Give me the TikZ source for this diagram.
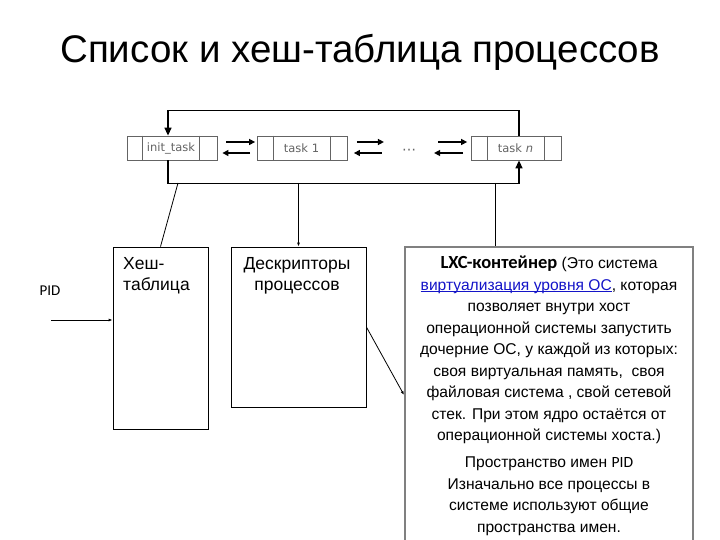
\documentclass[tikz,border=0pt]{standalone}
\usepackage{fontspec}
\setmainfont{Liberation Sans}
\newfontfamily\carlito{Carlito}
\newfontfamily\dejavu{DejaVu Sans}
\usetikzlibrary{arrows.meta,calc}
\definecolor{linkblue}{RGB}{20,20,200}
\definecolor{chaingray}{RGB}{100,100,100}
\definecolor{lxcgray}{RGB}{128,128,128}
\newcommand\linkul[1]{\setbox0\hbox{#1}\rlap{\rule[-1.8pt]{\wd0}{0.9pt}}\box0}
\tikzset{
  taskbox/.style={draw=chaingray, line width=0.8pt, minimum width=90pt, minimum height=24pt, inner sep=0pt},
  tasktext/.style={text=chaingray, font=\dejavu\fontsize{11.5}{13}\selectfont},
  chainarrow/.style={line width=1.4pt, -{Triangle[length=6pt,width=6pt]}},
  loopline/.style={line width=1.4pt, -{Triangle[length=8pt,width=7pt]}},
  thinline/.style={line width=0.8pt},
  thinarrow/.style={line width=0.8pt, -{Latex[length=4pt,width=3pt]}},
  plainbox/.style={draw, line width=0.8pt, inner sep=0pt},
  boxtext/.style={font=\fontsize{17.5}{21}\selectfont, align=left, inner sep=0pt},
}
\begin{document}
\begin{tikzpicture}[x=1pt,y=-1pt]
\useasboundingbox (0,0) rectangle (720,540);
\clip (0,0) rectangle (720,540);
\fill[white] (0,0) rectangle (720,540);

% title
\node[font=\fontsize{38.5}{42}\selectfont, inner sep=0pt] (title) at (360,52) {Список и хеш-таблица процессов};

% task chain
\node[taskbox] (t0) at (172,148) {};
\node[taskbox] (t1) at (302.5,148) {};
\node[taskbox] (tn) at (516.5,148) {};
\foreach \t in {t0,t1,tn}{
  \draw[draw=chaingray, line width=0.8pt] ([xshift=16pt]\t.north west) -- ([xshift=16pt]\t.south west);
  \draw[draw=chaingray, line width=0.8pt] ([xshift=-18pt]\t.north east) -- ([xshift=-18pt]\t.south east);
}
\node[tasktext] (l0) at ([xshift=-1pt]t0.center) {init\_task};
\node[tasktext] (l1) at ([xshift=-1pt]t1.center) {task 1};
\node[tasktext] (ln) at ([xshift=-1pt]tn.center) {task \textit{n}};
\node[text=chaingray, font=\dejavu\fontsize{14}{15}\selectfont, inner sep=0pt] (dots) at (409,152) {⋯};

% arrows between tasks
\draw[chainarrow] ([xshift=9pt,yshift=6pt]t0.east) -- ([xshift=-2pt,yshift=6pt]t1.west);
\draw[chainarrow] ([xshift=-7pt,yshift=-5pt]t1.west) -- ([xshift=5pt,yshift=-5pt]t0.east);
\draw[chainarrow] ([xshift=9pt,yshift=6pt]t1.east) -- ([xshift=36pt,yshift=6pt]t1.east);
\draw[chainarrow] ([xshift=34pt,yshift=-5pt]t1.east) -- ([xshift=6pt,yshift=-5pt]t1.east);
\draw[chainarrow] ([xshift=-33pt,yshift=6pt]tn.west) -- ([xshift=-4pt,yshift=6pt]tn.west);
\draw[chainarrow] ([xshift=-8pt,yshift=-5pt]tn.west) -- ([xshift=-37pt,yshift=-5pt]tn.west);

% loops
\draw[loopline] ([xshift=2.5pt]tn.north) -- ++(0,-25) -| ([xshift=-4pt]t0.north);
\draw[loopline] ([xshift=-4pt]t0.south) -- ++(0,23) -| ([xshift=2.5pt]tn.south);

% lower boxes
\node[plainbox, minimum width=95pt, minimum height=182pt] (hb) at (160.5,338) {};
\node[boxtext, anchor=north west] (hbt) at (123,257) {Хеш-\\таблица};
\node[plainbox, minimum width=135pt, minimum height=160pt] (db) at (298.5,327) {};
\node[boxtext, align=center, anchor=north] (dbt) at (297,257) {Дескрипторы\\процессов};
\node[draw=lxcgray, line width=2pt, minimum width=288pt, minimum height=300pt, inner sep=0pt] (lb) at (549,397) {};

\node[font=\fontsize{15.6}{21.5}\selectfont, align=center, inner sep=0pt, anchor=north] (lbt) at (549,256) {%
{\carlito\bfseries\fontsize{18.5}{21.5}\selectfont LXC-контейнер} (Это система\\
\textcolor{linkblue}{\linkul{виртуализация уровня ОС}}, которая\\
позволяет внутри хост\\
операционной системы запустить\\
дочерние ОС, у каждой из которых:\\
своя виртуальная память,\ \ своя\\
файловая система , свой сетевой\\
стек. При этом ядро остаётся от\\
операционной системы хоста.)\\[5.5pt]
Пространство имен {\carlito PID}\\
Изначально все процессы в\\
системе используют общие\\
пространства имен.};

% connectors from the list
\coordinate (ch) at (178,183);
\coordinate (cd) at (298.5,183);
\coordinate (cl) at (495,183);
\draw[thinline] (ch) -- (hb.north);
\draw[thinarrow] (cd) -- (db.north);
\draw[thinline] (cl) -- (cl |- lb.north);
\draw[thinarrow] (db.east) -- ([yshift=2pt]lb.west);

% PID
\node[font=\carlito\fontsize{15}{18}\selectfont, inner sep=0pt] (pid) at (50,291) {PID};
\coordinate (pidstart) at (51,320);
\draw[thinarrow] (pidstart) -- (pidstart -| hb.west);
\end{tikzpicture}
\end{document}
